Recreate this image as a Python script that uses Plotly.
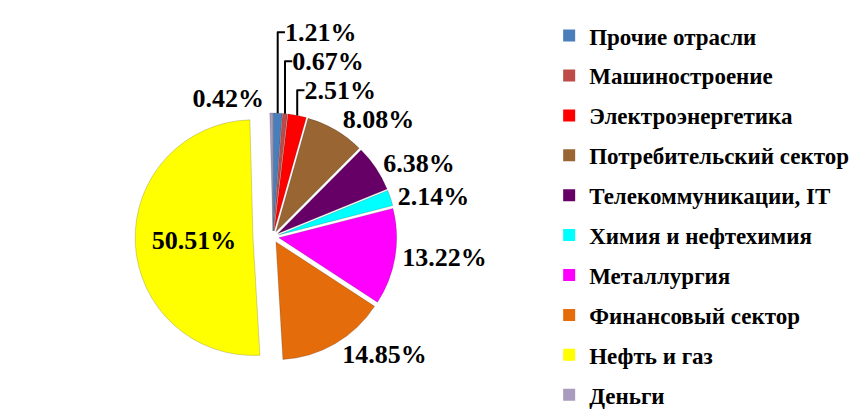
import plotly.graph_objects as go

labels = ["Прочие отрасли", "Машиностроение", "Электроэнергетика", "Потребительский сектор",
          "Телекоммуникации, IT", "Химия и нефтехимия", "Металлургия", "Финансовый сектор",
          "Нефть и газ", "Деньги"]
values = [1.21, 0.67, 2.51, 8.08, 6.38, 2.14, 13.22, 14.85, 50.51, 0.42]
colors = ["#4A7EBB", "#BE4B48", "#FF0000", "#996633", "#660066", "#00FFFF",
          "#FF00FF", "#E46C0A", "#FFFF00", "#A99BBD"]
pulls = [0.05, 0.05, 0.05, 0.05, 0.05, 0.05, 0.05, 0.05, 0.17, 0.05]

FONT = "Liberation Serif"

fig = go.Figure()
fig.add_trace(go.Pie(
    labels=labels, values=values, sort=False,
    direction="clockwise", rotation=0,
    marker=dict(colors=colors, line=dict(color="rgba(0,0,0,0.35)", width=0.5)),
    pull=pulls,
    texttemplate="<b>%{value:.2f}%</b>",
    textposition=["outside"] * 8 + ["inside", "outside"],
    textfont=dict(family=FONT, size=26, color="black"),
    insidetextorientation="horizontal",
    showlegend=False,
    domain=dict(x=[0.148, 0.469], y=[0.104, 0.780]),
    hoverinfo="label+percent",
))

for i, (lab, col) in enumerate(zip(labels, colors)):
    fig.add_trace(go.Scatter(
        x=[None], y=[None], mode="markers", name=f"<b>{lab}</b>",
        marker=dict(symbol="square", size=12, color=col),
        legendgroup=f"g{i}", showlegend=True,
    ))

fig.update_layout(
    width=859, height=410,
    margin=dict(l=0, r=0, t=0, b=0, autoexpand=False),
    paper_bgcolor="white", plot_bgcolor="white",
    xaxis=dict(visible=False), yaxis=dict(visible=False),
    legend=dict(
        x=0.63, y=0.985, xanchor="left", yanchor="top",
        font=dict(family=FONT, size=23, color="black"),
        traceorder="grouped", tracegroupgap=7, maxheight=700,
        bgcolor="rgba(0,0,0,0)",
    ),
)

fig.write_html("out.html")
